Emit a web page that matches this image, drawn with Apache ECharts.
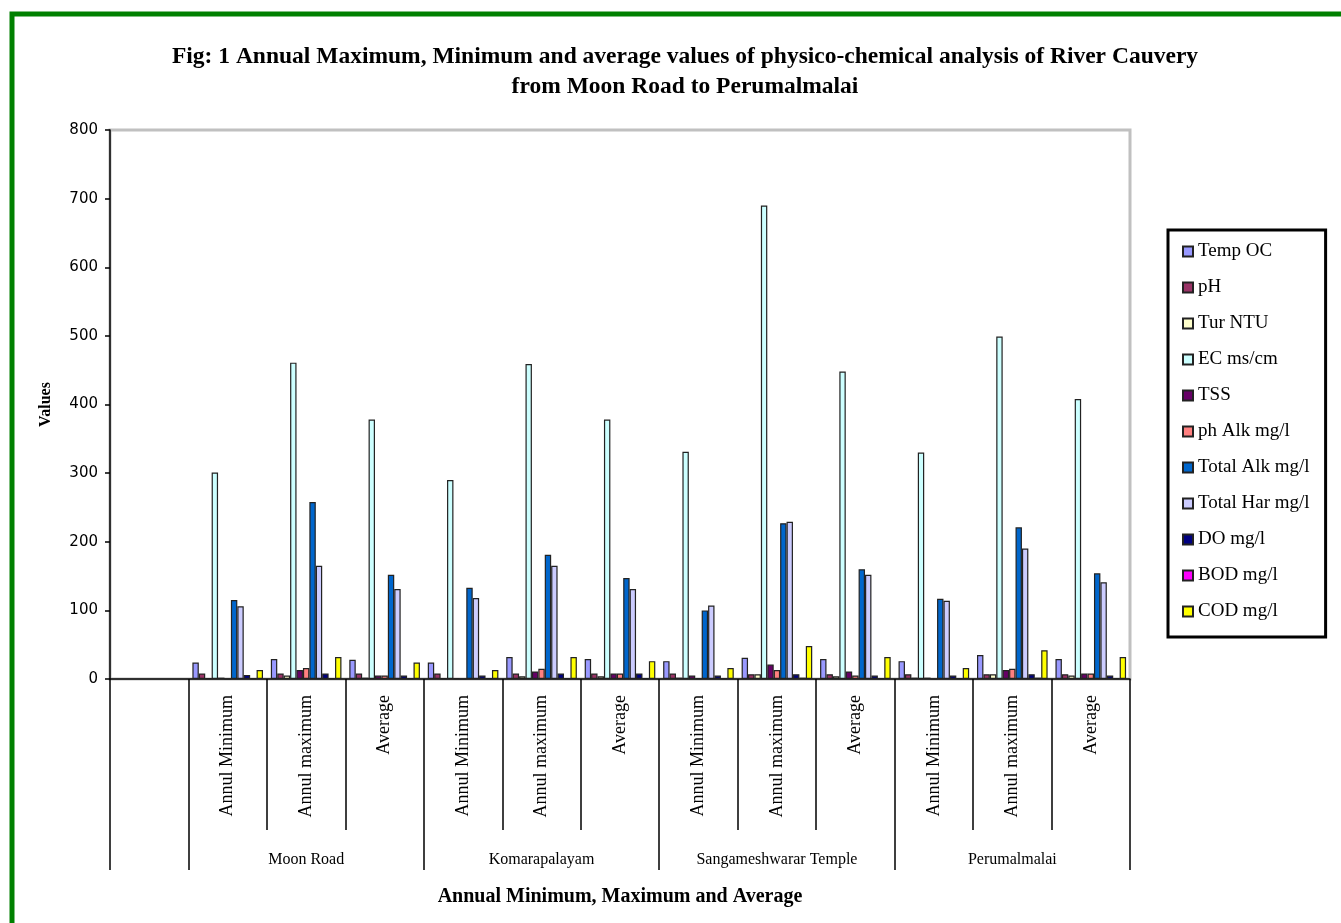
<!DOCTYPE html>
<html>
<head>
<meta charset="utf-8">
<title>River Cauvery physico-chemical analysis</title>
<script src="https://cdn.jsdelivr.net/npm/echarts@6/dist/echarts.min.js"></script>
<style>
  html, body { margin: 0; padding: 0; background: #ffffff; }
  #chart { width: 1341px; height: 923px; }
</style>
</head>
<body>
<div id="chart"></div>
<script>
// Sub-categories (first slot is left blank on the axis)
const subCategories = ['', 'Annul Minimum', 'Annul maximum', 'Average',
  'Annul Minimum', 'Annul maximum', 'Average',
  'Annul Minimum', 'Annul maximum', 'Average',
  'Annul Minimum', 'Annul maximum', 'Average'];

// Sampling stations, each spanning three sub-categories
const stations = ['Moon Road', 'Komarapalayam', 'Sangameshwarar Temple', 'Perumalmalai'];

const yTicks = [0, 100, 200, 300, 400, 500, 600, 700, 800];

// Values per parameter: Moon Road (min, max, avg), Komarapalayam, Sangameshwarar Temple, Perumalmalai
const tempOC   = [24, 29, 28, 24, 32, 29, 26, 31, 29, 26, 35, 29];
const pH       = [8, 8, 8, 8, 8, 8, 8, 7, 7, 7, 7, 7];
const turNTU   = [1, 5, 2, 1, 4, 4, 2, 7, 4, 2, 7, 5];
const ecMsCm   = [301, 461, 378, 290, 459, 378, 331, 690, 448, 330, 499, 408];
const tss      = [2, 13, 5, 1, 11, 8, 5, 21, 11, 2, 13, 8];
const phAlk    = [0, 16, 5, 0, 15, 8, 1, 13, 5, 0, 15, 8];
const totalAlk = [115, 258, 152, 133, 181, 147, 100, 227, 160, 117, 221, 154];
const totalHar = [106, 165, 131, 118, 165, 131, 107, 229, 152, 114, 190, 141];
const doMgL    = [6, 8, 5, 5, 8, 8, 5, 7, 5, 5, 7, 5];
const bodMgL   = [1, 1, 1, 1, 1, 1, 1, 2, 1, 1, 2, 1];
const codMgL   = [13, 32, 24, 13, 32, 26, 16, 48, 32, 16, 42, 32];

const seriesNames = ['Temp OC', 'pH', 'Tur NTU', 'EC ms/cm', 'TSS', 'ph Alk mg/l',
  'Total Alk mg/l', 'Total Har mg/l', 'DO mg/l', 'BOD mg/l', 'COD mg/l'];
const seriesValues = [tempOC, pH, turNTU, ecMsCm, tss, phAlk, totalAlk, totalHar, doMgL, bodMgL, codMgL];
const seriesColors = ['#9999FF', '#993366', '#FFFFCC', '#CCFFFF', '#660066', '#FF8080',
  '#0066CC', '#CCCCFF', '#000080', '#FF00FF', '#FFFF00'];

// Station labels sit in the middle slot of each three-slot block
const stationRow = subCategories.map(() => '');
stations.forEach((s, i) => { stationRow[2 + i * 3] = s; });
// Block boundaries: left edge, then the start of each station block
const blockStarts = [0, 1, 4, 7, 10];

const serif = '"Liberation Serif", "Times New Roman", serif';

const chart = echarts.init(document.getElementById('chart'), null, { renderer: 'canvas' });

chart.setOption({
  backgroundColor: '#ffffff',
  animation: false,
  title: {
    text: 'Fig: 1 Annual Maximum, Minimum and average values of physico-chemical analysis of River Cauvery\nfrom Moon Road to Perumalmalai',
    left: 680,
    top: 37,
    textAlign: 'center',
    textStyle: { fontFamily: serif, fontWeight: 'bold', fontSize: 23.5, lineHeight: 30, color: '#000' }
  },
  graphic: [{
    type: 'rect',
    shape: { x: 12, y: 14, width: 1400, height: 1000 },
    style: { fill: 'none', stroke: '#008000', lineWidth: 5 },
    silent: true,
    z: 100
  }],
  legend: {
    orient: 'vertical',
    left: 1168,
    top: 230,
    padding: [12, 16, 16, 14],
    itemWidth: 10,
    itemHeight: 10,
    itemGap: 17,
    icon: 'rect',
    borderColor: '#000',
    borderWidth: 3,
    backgroundColor: '#fff',
    textStyle: { fontFamily: serif, fontSize: 19, color: '#000' },
    data: seriesNames
  },
  grid: {
    left: 110, top: 130, width: 1020, height: 549,
    show: true, borderColor: '#c0c0c0', borderWidth: 3, backgroundColor: '#fff'
  },
  xAxis: [{
    type: 'category',
    data: subCategories,
    position: 'bottom',
    axisLine: { show: true, lineStyle: { color: '#000', width: 1.5 } },
    axisTick: { show: true, interval: 0, length: 151, lineStyle: { color: '#000', width: 1.5 } },
    axisLabel: {
      interval: 0, rotate: 90, margin: 16,
      fontFamily: serif, fontSize: 18, color: '#000'
    },
    splitLine: { show: false }
  }, {
    type: 'category',
    data: stationRow,
    position: 'bottom',
    min: 0, max: subCategories.length - 1,
    axisLine: { show: false },
    axisTick: {
      show: true, length: 191,
      interval: (index) => blockStarts.indexOf(index) >= 0,
      lineStyle: { color: '#000', width: 1.5 }
    },
    axisLabel: { interval: 0, margin: 173, fontFamily: serif, fontSize: 16, color: '#000' },
    splitLine: { show: false },
    name: 'Annual Minimum, Maximum and Average',
    nameLocation: 'middle',
    nameGap: 208,
    nameTextStyle: { fontFamily: serif, fontWeight: 'bold', fontSize: 20, color: '#000' }
  }],
  yAxis: {
    type: 'value',
    min: yTicks[0],
    max: yTicks[yTicks.length - 1],
    interval: yTicks[1] - yTicks[0],
    axisLine: { show: true, lineStyle: { color: '#000', width: 1.5 } },
    axisTick: { show: true, length: 5, lineStyle: { color: '#000', width: 1.5 } },
    axisLabel: { margin: 12, fontFamily: '"DejaVu Sans", sans-serif', fontSize: 15, color: '#000' },
    splitLine: { show: false },
    name: 'Values',
    nameLocation: 'middle',
    nameRotate: 90,
    nameGap: 56,
    nameTextStyle: { fontFamily: serif, fontWeight: 'bold', fontSize: 16, color: '#000' }
  },
  series: seriesNames.map((name, i) => ({
    name: name,
    type: 'bar',
    xAxisIndex: 0,
    barGap: '0%',
    barCategoryGap: '10%',
    itemStyle: { color: seriesColors[i], borderColor: '#222', borderWidth: 1.2 },
    data: [null].concat(seriesValues[i])
  }))
});
</script>
</body>
</html>
